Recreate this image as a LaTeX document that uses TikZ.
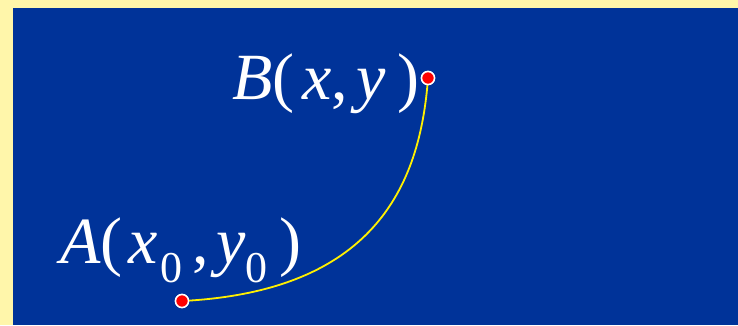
\documentclass[tikz,border=0pt]{standalone}
\usepackage{fontspec}
\setmainfont{Liberation Serif}
\usepackage{tikz}
\usetikzlibrary{positioning,calc}
\definecolor{bgblue}{RGB}{0,51,153}
\definecolor{frameyellow}{RGB}{255,246,170}
\definecolor{curveyellow}{RGB}{255,240,0}
\newcommand{\subzero}{\raisebox{-19pt}{\fontsize{44}{44}\selectfont 0}}

\begin{document}
\begin{tikzpicture}[x=1pt,y=1pt,
   pt/.style={circle,fill=red,draw=white,line width=1.5pt,minimum size=13pt,inner sep=0pt},
   lbl/.style={text=white,anchor=base west,inner sep=0pt,font=\fontsize{66}{72}\selectfont}]
  \fill[frameyellow] (0,0) rectangle (738,325);
  \fill[bgblue] (13,0) rectangle (738,317);
  \useasboundingbox (0,0) rectangle (738,325);
  \node[pt] (A) at (182,24) {};
  \node[pt] (B) at (428,247) {};
  \draw[curveyellow,line width=1.8pt] (A.center) .. controls (372,33.5) and (420,137) .. (B.center);
  \node[pt] at (A) {};
  \node[pt] at (B) {};
  % labels
  \node[lbl] (labA) at (60,62) {\textit{A}(\kern6pt\textit{x}\kern2pt\subzero\kern10pt,\kern8pt\textit{y}\subzero\kern12pt)};
  \node[lbl] (labB) at (232,226) {\textit{B}(\kern8pt\textit{x},\kern8pt\textit{y}\kern12pt)};
\end{tikzpicture}
\end{document}
